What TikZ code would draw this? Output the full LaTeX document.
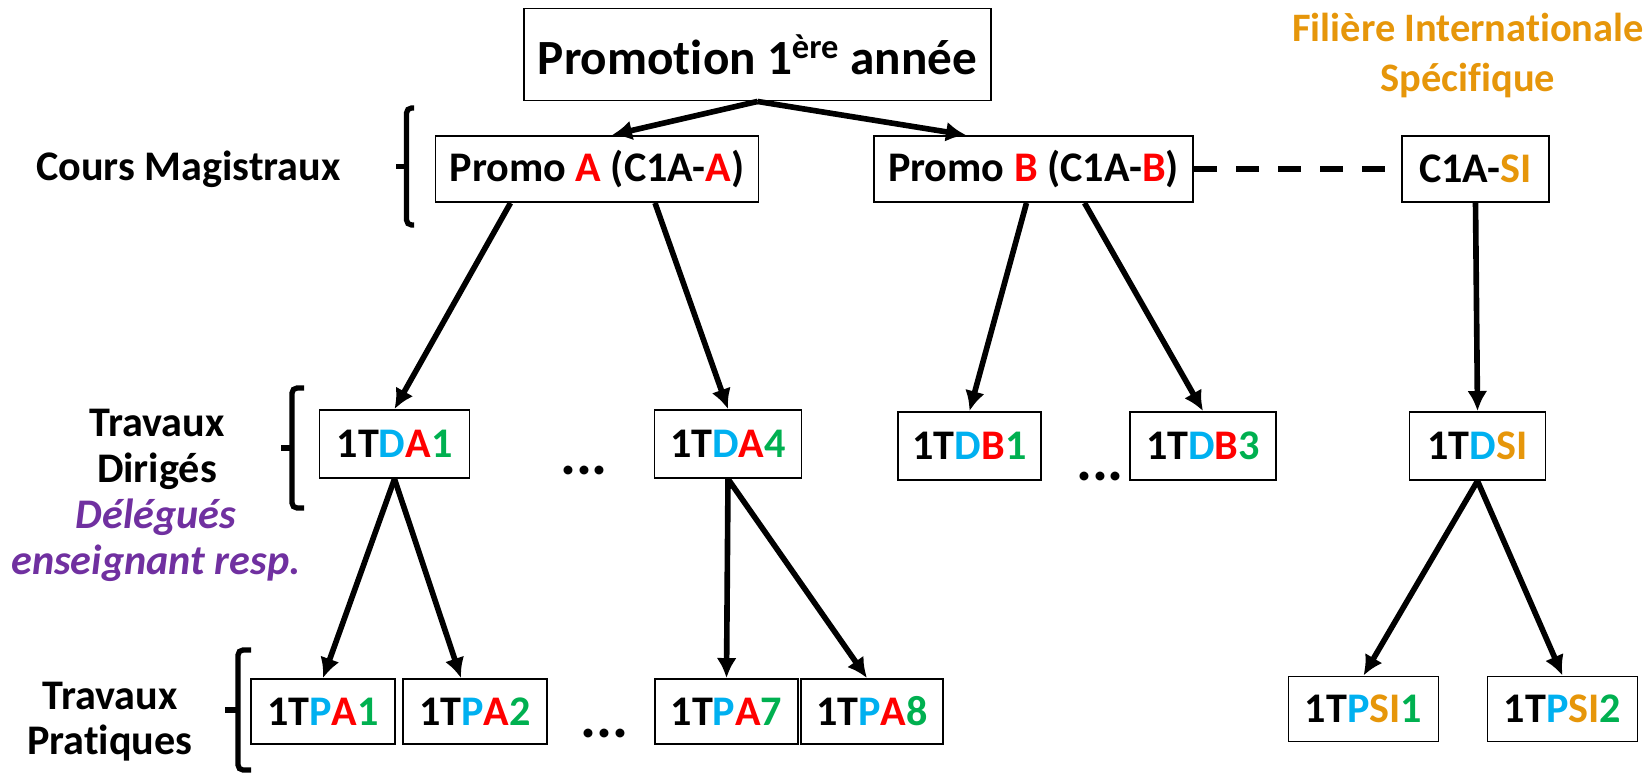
\documentclass[tikz,border=0pt]{standalone}
\usepackage{fontspec}
\setmainfont{Carlito}[Ligatures=NoCommon]
\usetikzlibrary{arrows.meta}
\definecolor{grpred}{RGB}{255,0,0}
\definecolor{grpblue}{RGB}{0,176,240}
\definecolor{grpgreen}{RGB}{0,176,80}
\definecolor{grporange}{RGB}{230,150,10}
\definecolor{grppurple}{RGB}{112,48,160}

\begin{document}
\begin{tikzpicture}[
    font=\fontsize{24}{25}\selectfont\bfseries,
    box/.style={draw, line width=1.1pt, inner sep=0pt, minimum height=1.32cm},
    arr/.style={line width=3.2pt, -{Latex[length=4mm,width=4mm]}},
    brk/.style={line width=3pt, rounded corners=1mm},
    dots/.style={font=\fontsize{34}{34}\selectfont\bfseries, inner sep=0pt}
  ]
  \useasboundingbox (0,0) rectangle (32.86,15.44);

  % Top of the tree
  \node[box, minimum width=9.34cm, minimum height=1.84cm, font=\fontsize{28}{30}\selectfont\bfseries]
    (promo) at (15.15,14.35) {Promotion 1\textsuperscript{ère} année};

  % Cours magistraux
  \node[box, minimum width=6.46cm] (promoA) at (11.94,12.06)
    {Promo \textcolor{grpred}{A} (C1A-\textcolor{grpred}{A})};
  \node[box, minimum width=6.39cm] (promoB) at (20.67,12.06)
    {Promo \textcolor{grpred}{B} (C1A-\textcolor{grpred}{B})};
  \node[box, minimum width=2.94cm] (cSI) at (29.51,12.06)
    {C1A-\textcolor{grporange}{SI}};
  \node[text=grporange, align=center, font=\fontsize{23}{28}\selectfont\bfseries] (filiere) at (29.36,14.33)
    {Filière Internationale\\Spécifique};

  % Travaux diriges
  \node[box, minimum width=3.0cm, minimum height=1.36cm] (tdA1) at (7.89,6.56)
    {1T\textcolor{grpblue}{D}\textcolor{grpred}{A}\textcolor{grpgreen}{1}};
  \node[box, minimum width=2.94cm, minimum height=1.36cm] (tdA4) at (14.56,6.56)
    {1T\textcolor{grpblue}{D}\textcolor{grpred}{A}\textcolor{grpgreen}{4}};
  \node[box, minimum width=2.87cm, minimum height=1.36cm] (tdB1) at (19.39,6.52)
    {1T\textcolor{grpblue}{D}\textcolor{grpred}{B}\textcolor{grpgreen}{1}};
  \node[box, minimum width=2.93cm, minimum height=1.36cm] (tdB3) at (24.06,6.52)
    {1T\textcolor{grpblue}{D}\textcolor{grpred}{B}\textcolor{grpgreen}{3}};
  \node[box, minimum width=2.72cm, minimum height=1.36cm] (tdSI) at (29.55,6.52)
    {1T\textcolor{grpblue}{D}\textcolor{grporange}{SI}};

  % Travaux pratiques
  \node[box, minimum width=2.87cm, minimum height=1.3cm] (tpA1) at (6.46,1.21)
    {1T\textcolor{grpblue}{P}\textcolor{grpred}{A}\textcolor{grpgreen}{1}};
  \node[box, minimum width=2.87cm, minimum height=1.3cm] (tpA2) at (9.50,1.21)
    {1T\textcolor{grpblue}{P}\textcolor{grpred}{A}\textcolor{grpgreen}{2}};
  \node[box, minimum width=2.87cm, minimum height=1.3cm] (tpA7) at (14.53,1.21)
    {1T\textcolor{grpblue}{P}\textcolor{grpred}{A}\textcolor{grpgreen}{7}};
  \node[box, minimum width=2.85cm, minimum height=1.3cm] (tpA8) at (17.44,1.21)
    {1T\textcolor{grpblue}{P}\textcolor{grpred}{A}\textcolor{grpgreen}{8}};
  \node[box, minimum width=3.0cm, minimum height=1.3cm] (tpSI1) at (27.27,1.26)
    {1T\textcolor{grpblue}{P}\textcolor{grporange}{SI}\textcolor{grpgreen}{1}};
  \node[box, minimum width=3.0cm, minimum height=1.3cm] (tpSI2) at (31.25,1.26)
    {1T\textcolor{grpblue}{P}\textcolor{grporange}{SI}\textcolor{grpgreen}{2}};

  % Dots for the groups left out
  \node[dots] (dotsTD) at (11.68,6.02) {...};
  \node[dots] (dotsTDB) at (22.0,5.91) {...};
  \node[dots] (dotsTP) at (12.09,0.77) {...};

  % Row labels on the left
  \node (cm) at (3.77,12.05) {Cours Magistraux};
  \node[align=center, font=\fontsize{24}{26}\selectfont\bfseries] (td) at (3.14,6.45) {Travaux\\Dirigés};
  \node[align=center, text=grppurple, font=\fontsize{24}{26}\selectfont\bfseries\itshape]
    (deleg) at (3.12,4.63) {Délégués\\enseignant resp.};
  \node[align=center, font=\fontsize{24}{26}\selectfont\bfseries] (tp) at (2.2,1.01) {Travaux\\Pratiques};

  % Draw the brackets
  \draw[brk] (8.28,13.28) -- (8.13,13.28) -- (8.13,10.94) -- (8.28,10.94);
  \draw[line width=3pt] (8.13,12.11) -- (7.92,12.11);
  \draw[brk] (6.08,7.68) -- (5.84,7.68) -- (5.84,5.28) -- (6.08,5.28);
  \draw[line width=3pt] (5.84,6.48) -- (5.62,6.48);
  \draw[brk] (5.02,2.44) -- (4.76,2.44) -- (4.76,0.04) -- (5.02,0.04);
  \draw[line width=3pt] (4.76,1.24) -- (4.5,1.24);

  % Draw the arrows
  \draw[arr] (promo.south) -- ([xshift=3mm]promoA.north);
  \draw[arr] (promo.south) -- ([xshift=-13.5mm]promoB.north);
  \draw[arr] ([xshift=-17.3mm]promoA.south) -- (tdA1.north);
  \draw[arr] ([xshift=11.6mm]promoA.south) -- (tdA4.north);
  \draw[arr] ([xshift=-1.4mm]promoB.south) -- (tdB1.north);
  \draw[arr] ([xshift=10.2mm]promoB.south) -- (tdB3.north);
  \draw[arr] (cSI.south) -- (tdSI.north);
  \draw[arr] (tdA1.south) -- (tpA1.north);
  \draw[arr] (tdA1.south) -- ([xshift=-2.8mm]tpA2.north);
  \draw[arr] (tdA4.south) -- (tpA7.north);
  \draw[arr] (tdA4.south) -- ([xshift=-1mm]tpA8.north);
  \draw[arr] (tdSI.south) -- (tpSI1.north);
  \draw[arr] (tdSI.south) -- (tpSI2.north);

  % Dashed link to the international track
  \draw[line width=3.2pt, dash pattern=on 4.6mm off 3.8mm] (promoB.east) -- (cSI.west);

\end{tikzpicture}
\end{document}
